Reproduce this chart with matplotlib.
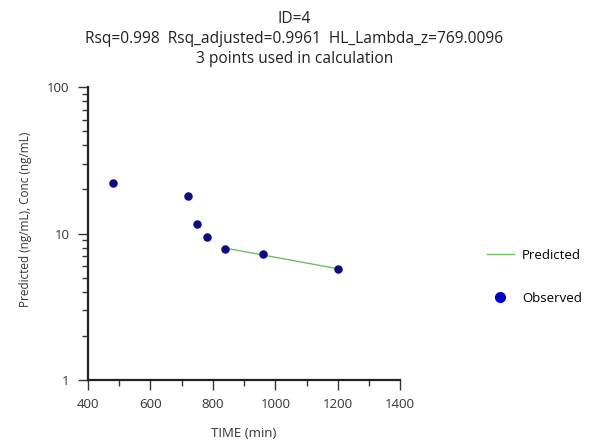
import numpy as np
import matplotlib
matplotlib.use("Agg")
import matplotlib.pyplot as plt
from matplotlib.ticker import LogLocator, NullFormatter, FixedLocator, FixedFormatter
from matplotlib.lines import Line2D

plt.rcParams['font.family'] = ['Open Sans', 'DejaVu Sans']

obs_time = [480, 720, 750, 780, 840, 960, 1200]
obs_conc = [22.0, 17.9, 11.6, 9.4, 7.9, 7.2, 5.75]
pred_time = [840, 960, 1200]
pred_conc = [7.95, 7.14, 5.75]

title_lines = ["ID=4",
               "Rsq=0.998  Rsq_adjusted=0.9961  HL_Lambda_z=769.0096",
               "3 points used in calculation"]

fig = plt.figure(figsize=(5.89, 4.44), dpi=100)
ax = fig.add_axes([0.1494, 0.144, 0.530, 0.660])

ax.plot(pred_time, pred_conc, color='#6fbf5f', lw=1.0, zorder=2)
ax.scatter(obs_time, obs_conc, s=26, color='#0c0c80', zorder=3)

ax.set_yscale('log')
ax.set_xlim(400, 1400)
ax.set_ylim(1, 100)
ax.set_xticks([400, 600, 800, 1000, 1200, 1400])
ax.set_xticks([500, 700, 900, 1100, 1300], minor=True)
ax.yaxis.set_major_locator(FixedLocator([1, 10, 100]))
ax.yaxis.set_major_formatter(FixedFormatter(['1', '10', '100']))
ax.yaxis.set_minor_locator(LogLocator(base=10, subs=np.arange(2, 10)))
ax.yaxis.set_minor_formatter(NullFormatter())

for s in ['top', 'right']:
    ax.spines[s].set_visible(False)
for s in ['left', 'bottom']:
    ax.spines[s].set_linewidth(1.6)
    ax.spines[s].set_color('#222222')

ax.tick_params(which='major', direction='out', length=7.2, width=1.0, labelsize=9.5,
               colors='#333333', pad=6)
ax.tick_params(which='minor', direction='out', length=4.3, width=1.0, colors='#333333')

ax.set_xlabel('TIME (min)', fontsize=9.5, color='#333333', labelpad=11)
ax.set_ylabel('Predicted (ng/mL), Conc (ng/mL)', fontsize=8.5, color='#333333')
ax.yaxis.set_label_coords(-0.18, 0.55)

ys = [1 - 19 / 444, 1 - 39 / 444, 1 - 59 / 444]
for t, y in zip(title_lines, ys):
    fig.text(0.5, y, t, ha='center', va='center', fontsize=11.2, color='#222222')

handles = [Line2D([0], [0], color='#6fbf5f', lw=1.0),
           Line2D([0], [0], marker='o', color='none', markerfacecolor='#0000c0',
                  markeredgecolor='#0000c0', markersize=7)]
fig.legend(handles, ['Predicted', 'Observed'], loc='center left',
           bbox_to_anchor=(0.806, 0.377), frameon=False, fontsize=9.5,
           labelspacing=2.26, handlelength=2.1, handletextpad=0.6)

fig.savefig('out.png', dpi=100)
